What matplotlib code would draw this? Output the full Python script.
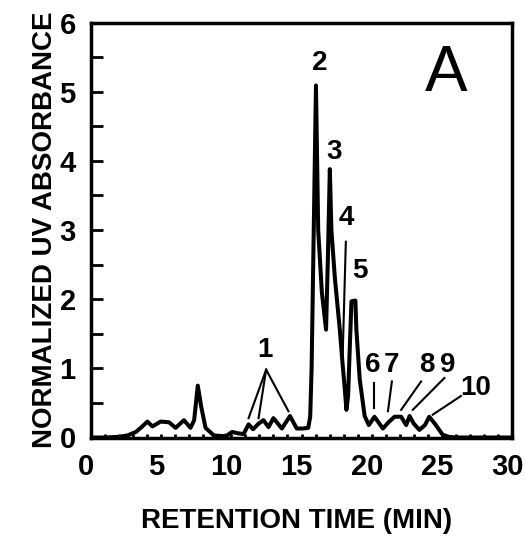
import matplotlib
matplotlib.use("Agg")
import matplotlib.pyplot as plt
from matplotlib.ticker import MultipleLocator
from matplotlib.transforms import ScaledTranslation

# trace (time in min, normalized absorbance)
time_min = [0.0, 1.0, 2.0, 2.6, 3.2, 3.6, 4.02, 4.38, 4.96, 5.56, 6.03, 6.62, 7.09, 7.35,
            7.61, 7.85, 8.16, 8.75, 9.4, 9.7, 10.05, 10.5, 10.87, 11.23, 11.55, 11.94,
            12.29, 12.65, 13.0, 13.6, 14.18, 14.66, 15.1, 15.48, 15.62, 15.72, 15.84,
            16.03, 16.19, 16.45, 16.75, 16.88, 17.02, 17.13, 17.38, 17.73, 17.92, 18.09,
            18.2, 18.32, 18.44, 18.56, 18.84, 18.91, 19.15, 19.5, 19.8, 20.2, 20.8,
            21.2, 21.63, 22.1, 22.46, 22.7, 23.0, 23.4, 23.8, 24.1, 24.5, 25.06, 25.5,
            26.0, 30.0]
absorbance = [0.0, 0.0, 0.01, 0.03, 0.08, 0.15, 0.23, 0.16, 0.23, 0.22, 0.14, 0.25, 0.14, 0.25,
              0.75, 0.45, 0.14, 0.03, 0.02, 0.03, 0.08, 0.06, 0.05, 0.19, 0.12, 0.2,
              0.25, 0.15, 0.28, 0.13, 0.31, 0.13, 0.13, 0.14, 0.3, 1.0, 2.57,
              5.09, 3.0, 2.1, 1.56, 2.6, 3.88, 3.0, 2.3, 1.56, 1.08, 0.69,
              0.4, 0.6, 1.3, 1.97, 1.98, 1.56, 0.84, 0.31, 0.18, 0.3, 0.13,
              0.22, 0.3, 0.3, 0.18, 0.31, 0.2, 0.11, 0.18, 0.3, 0.2, 0.04, 0.01,
              0.0, 0.0]

# peak labels (text centre in data coords)
peak_names = ["1", "2", "3", "4", "5", "6", "7", "8", "9", "10"]
label_t = [12.41, 16.3, 17.3, 18.2, 19.15, 20.09, 21.4, 23.9, 25.4, 27.4]
label_a = [1.26, 5.41, 4.13, 3.17, 2.4, 1.05, 1.05, 1.05, 1.05, 0.72]
# leader lines: (start t, start A, end t, end A)
leaders = [
    (12.48, 0.98, 11.23, 0.28),
    (12.48, 0.98, 11.94, 0.28),
    (12.48, 0.98, 14.07, 0.38),
    (18.16, 2.83, 17.92, 1.08),
    (20.2, 0.79, 20.2, 0.43),
    (21.44, 0.81, 21.16, 0.38),
    (23.52, 0.81, 22.1, 0.40),
    (25.18, 0.86, 22.93, 0.40),
    (26.36, 0.60, 24.35, 0.33),
]

plt.rcParams["font.family"] = ["Liberation Sans", "DejaVu Sans"]
plt.rcParams["font.weight"] = "bold"

fig = plt.figure(figsize=(5.25, 5.36), dpi=100)
ax = fig.add_axes([91 / 525, 1 - 437.5 / 536, 421 / 525, 415 / 536])

ax.plot(time_min, absorbance, color="black", lw=2.9, solid_joinstyle="round")

for x0, y0, x1, y1 in leaders:
    ax.plot([x0, x1], [y0, y1], color="black", lw=1.5)
for name, t, a in zip(peak_names, label_t, label_a):
    ax.text(t, a, name, ha="center", va="center", fontsize=20, fontweight="bold")

ax.text(25.3, 5.26, "A", ha="center", va="center", fontsize=46, fontweight="normal")

ax.set_xlim(0, 30)
ax.set_ylim(0, 6)
ax.xaxis.set_major_locator(MultipleLocator(5))
ax.xaxis.set_minor_locator(MultipleLocator(1))
ax.yaxis.set_major_locator(MultipleLocator(1))
ax.yaxis.set_minor_locator(MultipleLocator(0.5))
ax.tick_params(axis="both", which="both", direction="in", width=2, labelsize=21)
ax.tick_params(axis="x", which="both", length=3, pad=11)
ax.tick_params(axis="y", which="both", length=8.5, pad=11)
for s in ax.spines.values():
    s.set_linewidth(2.5)

shift = ScaledTranslation(-3.5 / 72, 0, fig.dpi_scale_trans)
for lab in ax.get_xticklabels():
    lab.set_transform(lab.get_transform() + shift)

ax.set_xlabel("RETENTION TIME (MIN)", fontsize=20, fontweight="bold")
ax.xaxis.set_label_coords(0.489, -0.171)
ax.set_ylabel("NORMALIZED UV ABSORBANCE", fontsize=20, fontweight="bold")
ax.yaxis.set_label_coords(-0.078, 0.5)

fig.savefig("out.png", dpi=100)
